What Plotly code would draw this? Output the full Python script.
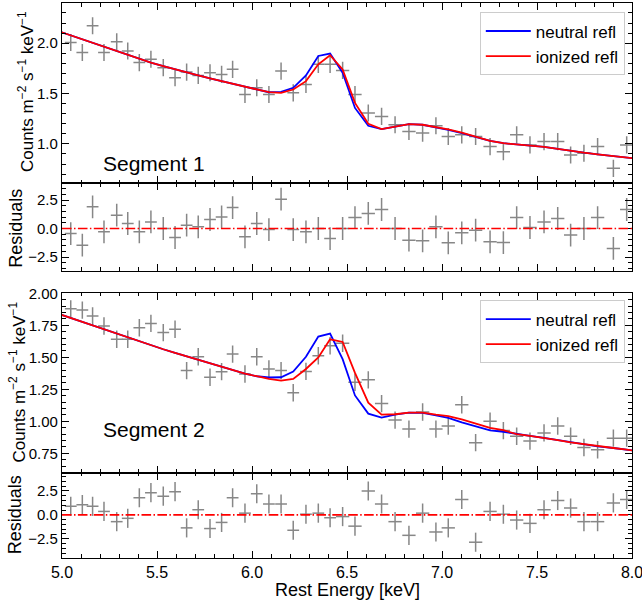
import plotly.graph_objects as go

# ---------------- data ----------------
energy = [5.046, 5.107, 5.161, 5.221, 5.288, 5.346, 5.407, 5.468, 5.533, 5.595,
          5.656, 5.717, 5.779, 5.840, 5.898, 5.963, 6.025, 6.089, 6.153, 6.217,
          6.284, 6.349, 6.411, 6.477, 6.542, 6.612, 6.682, 6.753, 6.826, 6.898,
          6.968, 7.033, 7.104, 7.177, 7.253, 7.323, 7.393, 7.463, 7.537, 7.609,
          7.677, 7.747, 7.819, 7.902, 7.972]
energy_halfwidth = [0.031] * 23 + [0.035] * 22

seg1_flux = [2.007, 1.907, 2.173, 1.907, 2.013, 1.923, 1.807, 1.840, 1.757, 1.657,
             1.713, 1.680, 1.707, 1.690, 1.740, 1.490, 1.557, 1.490, 1.723, 1.507,
             1.590, 1.790, 1.790, 1.730, 1.490, 1.307, 1.273, 1.190, 1.123, 1.107,
             1.180, 1.073, 1.090, 1.073, 0.973, 0.923, 1.090, 0.990, 1.023, 1.023,
             0.890, 0.907, 0.973, 0.757, 0.990]
seg1_err = 0.085
seg1_resid = [-0.44, -1.46, 1.90, -0.29, 1.17, 0.44, -0.29, 0.58, 0.00, -0.79,
              0.29, 0.15, 0.79, 1.02, 1.84, -0.73, 0.44, -0.09, 2.57, -0.09,
              -0.29, 0.00, -0.88, 0.00, 0.96, 1.32, 1.67, 0.00, -1.02, -1.08,
              0.15, -1.26, -0.38, -0.15, -1.17, -1.23, 0.96, 0.09, 0.58, 0.88,
              -0.58, 0.00, 0.96, -1.75, 1.67]

model_energy = [4.985] + energy + [8.045]
seg1_neutral = [2.117, 2.077, 2.040, 2.007, 1.963, 1.920, 1.880, 1.840, 1.807, 1.773,
                1.740, 1.710, 1.680, 1.650, 1.623, 1.600, 1.567, 1.540, 1.513, 1.517,
                1.557, 1.680, 1.873, 1.897, 1.707, 1.357, 1.180, 1.147, 1.173, 1.197,
                1.190, 1.167, 1.140, 1.107, 1.067, 1.030, 1.007, 0.995, 0.983, 0.970,
                0.950, 0.930, 0.913, 0.897, 0.877, 0.863, 0.850]
seg1_ionized = [2.117, 2.077, 2.040, 2.007, 1.963, 1.920, 1.880, 1.840, 1.807, 1.773,
                1.740, 1.710, 1.680, 1.650, 1.623, 1.600, 1.567, 1.540, 1.513, 1.507,
                1.540, 1.623, 1.790, 1.880, 1.740, 1.407, 1.200, 1.147, 1.173, 1.197,
                1.190, 1.167, 1.145, 1.113, 1.073, 1.030, 1.007, 0.995, 0.983, 0.970,
                0.950, 0.930, 0.913, 0.897, 0.877, 0.863, 0.850]

seg2_flux = [1.879, 1.869, 1.823, 1.745, 1.641, 1.641, 1.731, 1.765, 1.693, 1.719,
             1.396, 1.504, 1.344, 1.388, 1.525, 1.370, 1.504, 1.409, 1.396, 1.223,
             1.390, 1.512, 1.590, 1.610, 1.305, 1.324, 1.138, 1.009, 0.939, 1.073,
             0.939, 0.963, 1.129, 0.833, 1.000, 0.927, 0.883, 0.845, 0.909, 0.963,
             0.883, 0.795, 0.777, 0.868, 0.868]
seg2_err = 0.068
seg2_resid = [0.89, 1.07, 0.89, 0.36, -0.71, -0.36, 1.79, 2.32, 1.96, 2.43,
              -1.36, 0.54, -1.43, -0.79, 1.79, 0.18, 2.21, 1.14, 1.14, -1.61,
              0.07, 0.18, -0.30, -0.18, -1.18, 2.50, 1.14, -0.71, -2.14, 0.18,
              -1.79, -1.36, 1.61, -2.86, 0.36, 0.07, -0.54, -0.89, 0.54, 1.50,
              0.71, -0.71, -0.71, 1.25, 1.61]
seg2_neutral = [1.838, 1.807, 1.776, 1.748, 1.717, 1.682, 1.653, 1.622, 1.592, 1.563,
                1.535, 1.508, 1.481, 1.453, 1.425, 1.399, 1.372, 1.352, 1.342, 1.344,
                1.388, 1.504, 1.662, 1.685, 1.486, 1.202, 1.060, 1.029, 1.052, 1.068,
                1.065, 1.047, 1.027, 0.992, 0.959, 0.928, 0.918, 0.900, 0.886, 0.871,
                0.853, 0.835, 0.820, 0.804, 0.791, 0.778, 0.765]
seg2_ionized = [1.838, 1.807, 1.776, 1.748, 1.717, 1.682, 1.653, 1.622, 1.592, 1.563,
                1.535, 1.508, 1.481, 1.453, 1.425, 1.399, 1.372, 1.352, 1.332, 1.318,
                1.331, 1.409, 1.499, 1.641, 1.620, 1.378, 1.145, 1.052, 1.055, 1.068,
                1.068, 1.052, 1.040, 1.014, 0.983, 0.949, 0.930, 0.900, 0.886, 0.871,
                0.853, 0.835, 0.820, 0.804, 0.791, 0.778, 0.765]

x_ticks = [5.0, 5.5, 6.0, 6.5, 7.0, 7.5, 8.0]
segment_labels = ["Segment 1", "Segment 2"]
legend_names = ["neutral refl", "ionized refl"]

# ---------------- figure ----------------
FONT = "Liberation Sans, Arial, Helvetica, sans-serif"
GRAY = "#878787"

fig = go.Figure()


def add_data(xa, ya, y, err):
    fig.add_trace(go.Scatter(
        x=energy, y=y, mode="markers", xaxis=xa, yaxis=ya,
        marker=dict(size=1, color="rgba(0,0,0,0)"),
        error_x=dict(type="data", array=energy_halfwidth, width=0, thickness=1.5, color=GRAY),
        error_y=dict(type="data", array=[err] * len(y), width=0, thickness=1.5, color=GRAY),
        showlegend=False, hoverinfo="skip"))


# segment 1
add_data("x", "y", seg1_flux, seg1_err)
fig.add_trace(go.Scatter(x=model_energy, y=seg1_neutral, mode="lines", xaxis="x", yaxis="y",
                         line=dict(color="#0000ff", width=1.8), name=legend_names[0], legend="legend"))
fig.add_trace(go.Scatter(x=model_energy, y=seg1_ionized, mode="lines", xaxis="x", yaxis="y",
                         line=dict(color="#ff0000", width=1.8), name=legend_names[1], legend="legend"))
add_data("x2", "y2", seg1_resid, 1.0)

# segment 2
add_data("x3", "y3", seg2_flux, seg2_err)
fig.add_trace(go.Scatter(x=model_energy, y=seg2_neutral, mode="lines", xaxis="x3", yaxis="y3",
                         line=dict(color="#0000ff", width=1.8), name=legend_names[0], legend="legend2"))
fig.add_trace(go.Scatter(x=model_energy, y=seg2_ionized, mode="lines", xaxis="x3", yaxis="y3",
                         line=dict(color="#ff0000", width=1.8), name=legend_names[1], legend="legend2"))
add_data("x4", "y4", seg2_resid, 1.0)

# zero lines in residual panels
for ax, yref in [("x2", "y2"), ("x4", "y4")]:
    fig.add_shape(type="line", xref=ax + " domain", yref=yref, x0=0, x1=1, y0=0, y1=0,
                  line=dict(color="#ff0000", width=1.6, dash="9.6px,2.4px,1.5px,2.4px"))

# domains (paper fractions)
doms = [[0.675, 1.0], [0.5177, 0.675], [0.1537, 0.478], [0.0, 0.1537]]

axis_common = dict(
    showline=True, linecolor="black", linewidth=1.2, mirror="allticks",
    ticks="inside", ticklen=7, tickwidth=1.2, tickcolor="black",
    showgrid=False, zeroline=False, automargin=False,
    tickfont=dict(family=FONT, size=15, color="black"),
)

for i in range(4):
    n = "" if i == 0 else str(i + 1)
    fig.layout["xaxis" + n] = dict(
        axis_common, domain=[0, 1], range=[5.0, 8.0], tickvals=x_ticks,
        tickformat=".1f", anchor="y" + n, showticklabels=(i == 3),
        ticklabeloverflow="allow",
        minor=dict(ticks="inside", ticklen=3.5, tickwidth=1, dtick=0.1, tick0=5.0, tickcolor="black"),
    )
fig.layout["xaxis4"]["tickfont"] = dict(family=FONT, size=16, color="black")

fig.layout["yaxis"] = dict(axis_common, domain=doms[0], anchor="x", range=[0.608, 2.399],
                           tickvals=[1.0, 1.5, 2.0], tickformat=".1f",
                           minor=dict(ticks="inside", ticklen=3.5, tickwidth=1, dtick=0.1, tick0=0, tickcolor="black"))
fig.layout["yaxis2"] = dict(axis_common, domain=doms[1], anchor="x2", range=[-3.70, 3.96],
                            tickvals=[-2.5, 0.0, 2.5], tickformat=".1f",
                            minor=dict(ticks="inside", ticklen=3.5, tickwidth=1, dtick=0.5, tick0=0, tickcolor="black"))
fig.layout["yaxis3"] = dict(axis_common, domain=doms[2], anchor="x3", range=[0.598, 2.005],
                            tickvals=[0.75, 1.0, 1.25, 1.5, 1.75, 2.0], tickformat=".2f",
                            minor=dict(ticks="inside", ticklen=3.5, tickwidth=1, dtick=0.05, tick0=0, tickcolor="black"))
fig.layout["yaxis4"] = dict(axis_common, domain=doms[3], anchor="x4", range=[-4.51, 4.41],
                            tickvals=[-2.5, 0.0, 2.5], tickformat=".1f",
                            minor=dict(ticks="inside", ticklen=3.5, tickwidth=1, dtick=0.5, tick0=0, tickcolor="black"))

legend_style = dict(xanchor="left", yanchor="top", bgcolor="rgba(255,255,255,0.8)",
                    bordercolor="#cccccc", borderwidth=1, itemwidth=45,
                    font=dict(family=FONT, size=17, color="black"), tracegroupgap=0)
fig.update_layout(
    width=642, height=600,
    margin=dict(l=62, r=10, t=3, b=42, autoexpand=False),
    paper_bgcolor="white", plot_bgcolor="white",
    font=dict(family=FONT, color="black"),
    legend=dict(legend_style, x=0.733, y=0.983),
    legend2=dict(legend_style, x=0.733, y=0.464),
)

annotations = [
    dict(text=segment_labels[0], xref="x", yref="y", x=5.205, y=0.81, xanchor="left", yanchor="middle",
         showarrow=False, font=dict(family=FONT, size=21, color="black")),
    dict(text=segment_labels[1], xref="x3", yref="y3", x=5.205, y=0.932, xanchor="left", yanchor="middle",
         showarrow=False, font=dict(family=FONT, size=21, color="black")),
    dict(text="Counts m<sup>−2</sup> s<sup>−1</sup> keV<sup>−1</sup>", xref="paper", yref="paper",
         x=-0.064, y=0.8405, textangle=-90, showarrow=False, xanchor="center", yanchor="middle",
         font=dict(family=FONT, size=17, color="black")),
    dict(text="Counts m<sup>−2</sup> s<sup>−1</sup> keV<sup>−1</sup>", xref="paper", yref="paper",
         x=-0.078, y=0.317, textangle=-90, showarrow=False, xanchor="center", yanchor="middle",
         font=dict(family=FONT, size=17, color="black")),
    dict(text="Residuals", xref="paper", yref="paper", x=-0.081, y=0.5946, textangle=-90,
         showarrow=False, xanchor="center", yanchor="middle", font=dict(family=FONT, size=18, color="black")),
    dict(text="Residuals", xref="paper", yref="paper", x=-0.082, y=0.0775, textangle=-90,
         showarrow=False, xanchor="center", yanchor="middle", font=dict(family=FONT, size=18, color="black")),
    dict(text="Rest Energy [keV]", xref="paper", yref="paper", x=0.5, y=-0.058,
         showarrow=False, xanchor="center", yanchor="middle", font=dict(family=FONT, size=18, color="black")),
]
fig.update_layout(annotations=annotations)

fig.write_html("out.html", config={"displayModeBar": False},
               post_script="document.body.style.margin='0';document.body.style.padding='0';")
